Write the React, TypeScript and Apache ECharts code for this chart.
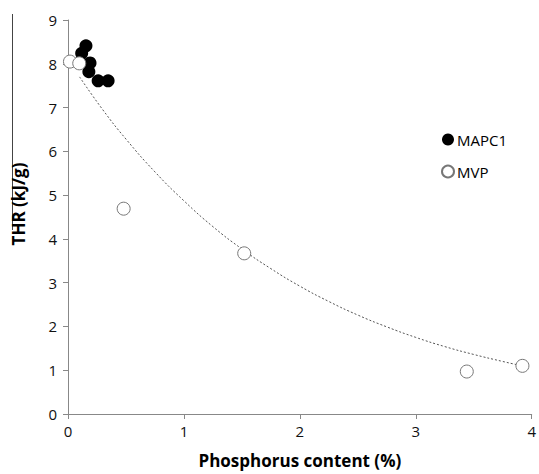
import React, { useEffect, useRef } from "react";
import * as echarts from "echarts";

const mapc1X = [0.155, 0.118, 0.19, 0.18, 0.26, 0.346];
const mapc1Y = [8.41, 8.24, 8.02, 7.82, 7.61, 7.61];
const mvpX = [0.017, 0.097, 0.48, 1.52, 3.44, 3.92];
const mvpY = [8.05, 8.01, 4.69, 3.67, 0.97, 1.1];
const trendX = [0.1, 0.3, 0.5, 0.75, 1, 1.25, 1.5, 1.75, 2, 2.25, 2.5, 2.75, 3, 3.25, 3.5, 3.75, 3.95];
const trendY = [7.7, 6.95, 6.28, 5.53, 4.87, 4.28, 3.77, 3.32, 2.92, 2.57, 2.26, 1.99, 1.75, 1.54, 1.36, 1.2, 1.08];
const yTicks = [0, 1, 2, 3, 4, 5, 6, 7, 8, 9];
const xTicks = [0, 1, 2, 3, 4];

const FONT = "'Open Sans', 'Noto Sans', sans-serif";

export default function App() {
  const ref = useRef<HTMLDivElement>(null);
  useEffect(() => {
    const chart = echarts.init(ref.current!, undefined, { renderer: "svg" });
    chart.setOption({
      animation: false,
      backgroundColor: "#ffffff",
      grid: { left: 68, right: 5, top: 20, bottom: 59 },
      xAxis: {
        type: "value",
        min: xTicks[0],
        max: xTicks[xTicks.length - 1],
        interval: 1,
        name: "Phosphorus content (%)",
        nameLocation: "middle",
        nameGap: 38,
        nameTextStyle: { fontFamily: FONT, fontWeight: "bold", fontSize: 17, color: "#000" },
        axisLine: { lineStyle: { color: "#888", width: 1 } },
        axisTick: { show: true, length: 5, lineStyle: { color: "#888" } },
        axisLabel: { fontFamily: FONT, fontSize: 15, color: "#111", margin: 9 },
        splitLine: { show: false },
      },
      yAxis: {
        type: "value",
        min: yTicks[0],
        max: yTicks[yTicks.length - 1],
        interval: 1,
        axisLine: { show: true, lineStyle: { color: "#888", width: 1 } },
        axisTick: { show: true, length: 5, lineStyle: { color: "#888" } },
        axisLabel: { fontFamily: FONT, fontSize: 15, color: "#111", margin: 11 },
        splitLine: { show: false },
      },
      legend: {
        orient: "vertical",
        left: 436,
        top: 127,
        itemWidth: 12,
        itemHeight: 12,
        itemGap: 17,
        textStyle: { fontFamily: FONT, fontSize: 15, color: "#000", padding: [0, 0, 0, -2] },
        data: [
          { name: "MAPC1", icon: "circle" },
          { name: "MVP", icon: "circle" },
        ],
      },
      graphic: [
        {
          type: "line",
          shape: { x1: 12.5, y1: 14, x2: 12.5, y2: 230 },
          style: { stroke: "#444", lineWidth: 1 },
        },
        {
          type: "text",
          x: 18,
          y: 204,
          rotation: Math.PI / 2,
          style: {
            text: "THR (kJ/g)",
            fontFamily: FONT,
            fontWeight: "bold",
            fontSize: 17,
            fill: "#000",
            textAlign: "center",
            textVerticalAlign: "middle",
          },
        },
      ],
      series: [
        {
          name: "Trend",
          type: "line",
          data: trendX.map((x, i) => [x, trendY[i]]),
          smooth: true,
          showSymbol: false,
          symbol: "none",
          lineStyle: { color: "#555", width: 1, type: [2, 2] },
          z: 1,
        },
        {
          name: "MAPC1",
          type: "scatter",
          data: mapc1X.map((x, i) => [x, mapc1Y[i]]),
          symbol: "circle",
          symbolSize: 13,
          itemStyle: { color: "#000", borderColor: "#000", borderWidth: 0, opacity: 1 },
          z: 3,
        },
        {
          name: "MVP",
          type: "scatter",
          data: mvpX.map((x, i) => [x, mvpY[i]]),
          symbol: "circle",
          symbolSize: 13,
          itemStyle: { color: "#fff", borderColor: "#777", borderWidth: 1, opacity: 1 },
          z: 4,
        },
      ],
    });
    return () => chart.dispose();
  }, []);
  return <div ref={ref} style={{ width: 539, height: 474, position: "absolute", left: 0, top: 0 }} />;
}
